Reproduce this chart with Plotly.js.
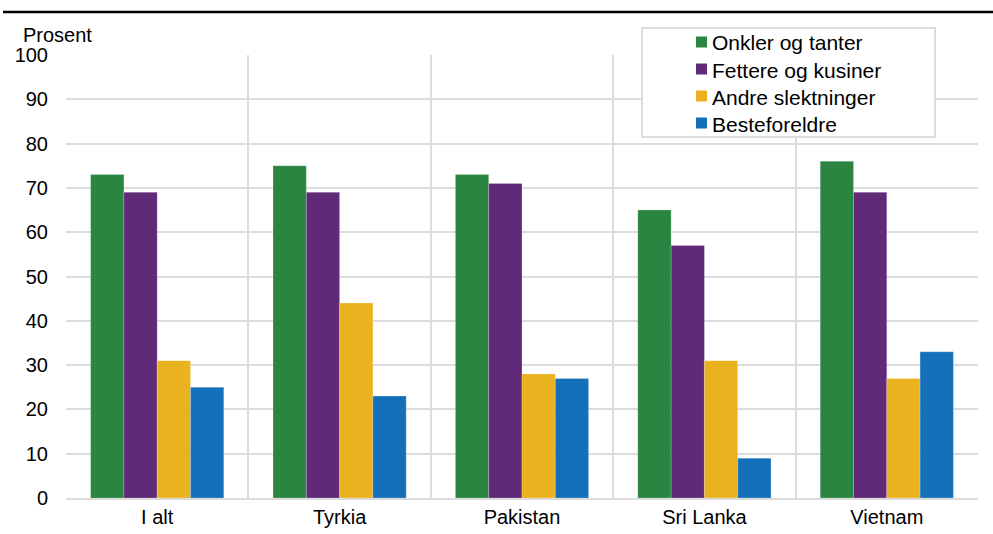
<!DOCTYPE html>
<html>
<head>
<meta charset="utf-8">
<script src="https://cdn.plot.ly/plotly-3.0.1.min.js"></script>
<style>html,body{margin:0;padding:0;background:#fff;}#chart{width:993px;height:534px;}</style>
</head>
<body>
<div id="chart"></div>
<script>
var categories = ["I alt", "Tyrkia", "Pakistan", "Sri Lanka", "Vietnam"];
var seriesNames = ["Onkler og tanter", "Fettere og kusiner", "Andre slektninger", "Besteforeldre"];
var onkler = [73, 75, 73, 65, 76];
var fettere = [69, 69, 71, 57, 69];
var andre = [31, 44, 28, 31, 27];
var besteforeldre = [25, 23, 27, 9, 33];
var yTicks = [0, 10, 20, 30, 40, 50, 60, 70, 80, 90, 100];
var colors = ["#2a8540", "#612a78", "#ebb220", "#1470b9"];
var values = [onkler, fettere, andre, besteforeldre];

var FONT = "Liberation Sans, Arial, sans-serif";
var W = 993, H = 534;
var m = {l: 66, r: 15, t: 55, b: 36};
var pw = W - m.l - m.r, ph = H - m.t - m.b;
function px(x) { return (x - m.l) / pw; }
function py(y) { return (H - m.b - y) / ph; }

var traces = values.map(function (v, i) {
  return {
    type: "bar", x: categories, y: v, name: seriesNames[i],
    marker: {color: colors[i], line: {color: "rgba(255,255,255,0.35)", width: 0.6}},
    showlegend: false, hoverinfo: "x+y+name"
  };
});

var shapes = [
  {type: "line", xref: "paper", yref: "paper", x0: px(3), x1: px(993), y0: py(12), y1: py(12),
   line: {color: "#000", width: 2.5}},
  {type: "rect", xref: "paper", yref: "paper", x0: px(642), x1: px(935), y0: py(28), y1: py(137),
   fillcolor: "#fff", line: {color: "#dcdcdc", width: 2}, layer: "above"}
];
var annotations = [
  {xref: "paper", yref: "paper", x: px(122), y: py(4), xanchor: "left", yanchor: "bottom",
   text: "<b>foreldrenes fødeland. 16-35 år. Prosent</b>", showarrow: false,
   font: {family: FONT, size: 20, color: "#000"}},
  {xref: "paper", yref: "paper", x: px(21), y: py(35), xanchor: "left", yanchor: "middle",
   text: "Prosent", showarrow: false,
   font: {family: FONT, size: 20, color: "#000"}}
];
seriesNames.forEach(function (n, i) {
  var cy = 42 + i * 27;
  shapes.push({type: "rect", xref: "paper", yref: "paper", x0: px(696), x1: px(707),
    y0: py(cy + 5.5), y1: py(cy - 5.5), fillcolor: colors[i], line: {width: 0}, layer: "above"});
  annotations.push({xref: "paper", yref: "paper", x: px(710), y: py(cy + 1), xanchor: "left", yanchor: "middle",
    text: n, showarrow: false, font: {family: FONT, size: 21, color: "#000"}});
});

var layout = {
  width: W, height: H,
  margin: m,
  paper_bgcolor: "#fff", plot_bgcolor: "#fff",
  font: {family: FONT, size: 20, color: "#000"},
  barmode: "group", bargap: 0.27, bargroupgap: 0,
  xaxis: {type: "category", tickson: "boundaries", showgrid: true, gridcolor: "#dcdcdc", gridwidth: 2,
    ticks: "", showline: true, linecolor: "#dcdcdc", linewidth: 2, mirror: false,
    tickfont: {size: 20}, fixedrange: true},
  yaxis: {range: [0, 100], tickvals: yTicks, showgrid: true, gridcolor: "#dcdcdc", gridwidth: 2,
    zeroline: false, showline: false, ticks: "", ticklabelstandoff: 17, tickfont: {size: 20}, fixedrange: true},
  shapes: shapes, annotations: annotations, showlegend: false
};
Plotly.newPlot("chart", traces, layout, {displayModeBar: false, staticPlot: true});
</script>
</body>
</html>
